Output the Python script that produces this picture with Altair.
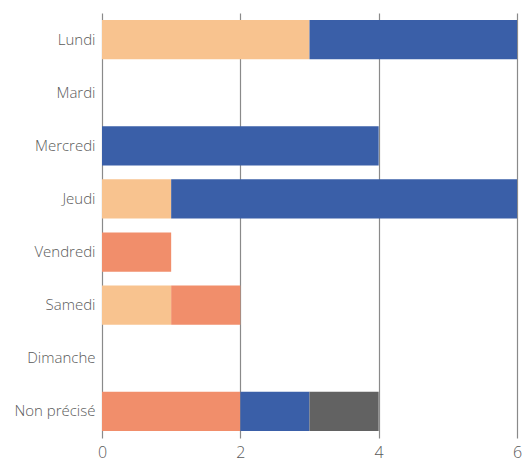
import altair as alt
import pandas as pd

days = ["Lundi", "Mardi", "Mercredi", "Jeudi", "Vendredi", "Samedi", "Dimanche", "Non précisé"]
series = ["A", "B", "C", "D"]
colors = ["#F8C38F", "#F18E6B", "#3A5FA8", "#626262"]
vals_a = [3, 0, 0, 1, 0, 1, 0, 0]
vals_b = [0, 0, 0, 0, 1, 1, 0, 2]
vals_c = [3, 0, 4, 5, 0, 0, 0, 1]
vals_d = [0, 0, 0, 0, 0, 0, 0, 1]

rows = []
for s, vals in zip(series, [vals_a, vals_b, vals_c, vals_d]):
    for i, (d, v) in enumerate(zip(days, vals)):
        rows.append({"jour": d, "serie": s, "valeur": v, "ordre": series.index(s)})
df = pd.DataFrame(rows)

font = "Open Sans"
chart = alt.Chart(df).mark_bar().encode(
    y=alt.Y("jour:N", sort=days, title=None,
            scale=alt.Scale(paddingInner=0.26, paddingOuter=0.13),
            axis=alt.Axis(domain=False, ticks=False, labelPadding=7, labelFontSize=15,
                          labelColor="#5a5a5a", labelFont=font, labelFontWeight=300, grid=False)),
    x=alt.X("valeur:Q", title=None, stack="zero",
            scale=alt.Scale(domain=[0, 6], nice=False),
            axis=alt.Axis(values=[0, 2, 4, 6], domain=False, ticks=False, grid=True,
                          gridColor="#8a8a8a", gridWidth=1.2, labelFontSize=16,
                          labelColor="#5a5a5a", labelFont=font, labelFontWeight=300,
                          labelPadding=6, labelFlush=False)),
    color=alt.Color("serie:N", scale=alt.Scale(domain=series, range=colors), legend=None),
    order=alt.Order("ordre:Q"),
).properties(
    width=415, height=425,
    autosize=alt.AutoSizeParams(type="none"),
    padding={"left": 94, "top": 5, "right": 5, "bottom": 24},
).configure_view(stroke=None)

chart.save("out.html", embed_options={"renderer": "svg", "actions": False})
